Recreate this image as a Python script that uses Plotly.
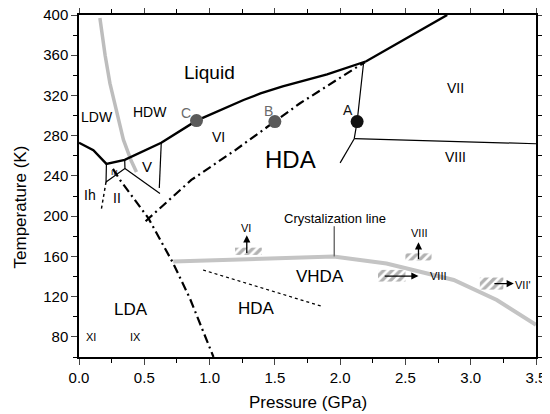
import plotly.graph_objects as go

# ---- data (pressure GPa, temperature K) ----
melt_P = [0.0, 0.11, 0.21, 0.35, 0.63, 0.90, 1.26, 1.39, 1.56, 1.90, 2.20, 2.50, 2.82]
melt_T = [273, 265.5, 252, 256, 273, 295, 315.5, 322, 329, 341, 354, 376, 400]

widom_P = [0.16, 0.20, 0.237, 0.30, 0.34, 0.40, 0.44]
widom_T = [397, 360, 332, 299, 276, 255, 244]

iceIII_P = [0.21, 0.207, 0.352, 0.35]
iceIII_T = [252, 234, 247.5, 256]

iiv_P = [0.352, 0.62]
iiv_T = [247.5, 222.5]
vvi_P = [0.63, 0.615]
vvi_T = [273, 228]

ih_P = [0.207, 0.17]
ih_T = [234, 206]

lda_hda_P = [0.26, 0.314, 0.531, 0.722, 0.85, 1.03]
lda_hda_T = [247, 236, 198, 153, 118, 60]

hda_liq_P = [0.51, 0.86, 1.20, 1.50, 1.69, 2.15, 2.19]
hda_liq_T = [195, 236, 266, 294, 312, 350, 353]

vi_vii_P = [2.18, 2.13, 2.108]
vi_vii_T = [353, 294, 277]
vii_viii_P = [2.108, 3.5]
vii_viii_T = [277, 272]
vi_viii_P = [2.108, 2.0]
vi_viii_T = [277, 253]

cryst_P = [0.722, 1.08, 1.50, 1.95, 2.355, 2.87, 3.2, 3.5]
cryst_T = [155, 156.5, 158.5, 159.8, 153, 136.6, 116.7, 92]

dot_P = [0.95, 1.87]
dot_T = [146.5, 110]

pts_name = ["C", "B", "A"]
pts_P = [0.90, 1.50, 2.13]
pts_T = [295, 294, 294]

boxes_P0 = [1.195, 2.50, 2.29, 3.07]
boxes_P1 = [1.40, 2.70, 2.50, 3.25]
boxes_T0 = [161.5, 156, 135, 127]
boxes_T1 = [168.7, 163, 146.6, 139]

arr_P0 = [1.285, 2.60, 2.33, 3.17]
arr_T0 = [162, 156, 140.5, 133]
arr_P1 = [1.285, 2.60, 2.60, 3.33]
arr_T1 = [181, 174, 140.5, 133]

lab_text = ["Liquid", "LDW", "HDW", "VI", "HDA", "VII", "VIII", "LDA", "HDA", "VHDA",
            "XI", "IX", "Ih", "II", "V", "III", "VI", "VIII", "VIII", "VII'",
            "Crystalization line"]
lab_P = [1.0, 0.14, 0.54, 1.07, 1.62, 2.88, 2.88, 0.40, 1.36, 1.845,
         0.09, 0.43, 0.085, 0.29, 0.52, 0.275, 1.28, 2.606, 2.75, 3.40,
         1.96]
lab_T = [343, 299, 304, 279, 256, 327, 259, 107, 108, 140,
         80, 80, 221, 218, 249, 243, 188, 183, 140.5, 132,
         198]
lab_size = [19, 14, 14, 14, 24, 14, 14, 17, 17, 17,
            11, 11, 14, 14, 15, 8, 11, 11, 11, 11,
            13]

x_ticks = [0.0, 0.5, 1.0, 1.5, 2.0, 2.5, 3.0, 3.5]
y_ticks = [80, 120, 160, 200, 240, 280, 320, 360, 400]

x_title = "Pressure (GPa)"
y_title = "Temperature (K)"

fig = go.Figure()

def line(P, T, width=1.2, color="black", dash="solid"):
    fig.add_trace(go.Scatter(x=P, y=T, mode="lines", showlegend=False, hoverinfo="skip",
                             line=dict(color=color, width=width, dash=dash)))

DD = "9px,4px,2px,4px"

line(widom_P, widom_T, 3.5, "#bdbdbd")
line(cryst_P, cryst_T, 4, "#c4c4c4")
line(melt_P, melt_T, 2.4)
line(iceIII_P, iceIII_T, 1.2)
line(iiv_P, iiv_T, 1.2)
line(vvi_P, vvi_T, 1.2)
line(ih_P, ih_T, 1.4, dash="dot")
line(lda_hda_P, lda_hda_T, 2.2, dash=DD)
line(hda_liq_P, hda_liq_T, 2.2, dash=DD)
line(vi_vii_P, vi_vii_T, 1.2)
line(vii_viii_P, vii_viii_T, 1.2)
line(vi_viii_P, vi_viii_T, 1.2)
line(dot_P, dot_T, 1.2, dash="dot")

# leader for crystallization line label
line([1.955, 1.955], [190, 160], 1.5, "#707070")

# hatched boxes
for p0, p1, t0, t1 in zip(boxes_P0, boxes_P1, boxes_T0, boxes_T1):
    fig.add_trace(go.Scatter(x=[p0, p1, p1, p0, p0], y=[t0, t0, t1, t1, t0], mode="lines",
                             fill="toself", fillcolor="rgba(0,0,0,0)", line=dict(width=0),
                             fillpattern=dict(shape="/", fgcolor="#666666", bgcolor="white",
                                              size=6, solidity=0.55),
                             showlegend=False, hoverinfo="skip"))

# points
fig.add_trace(go.Scatter(x=pts_P, y=pts_T, mode="markers", showlegend=False, hoverinfo="skip",
                         marker=dict(size=13, color=["#5a5a5a", "#5a5a5a", "#111111"])))
pt_lab_P = [0.82, 1.45, 2.06]
pt_lab_T = [303, 305, 306]
for n, p, t, c in zip(pts_name, pt_lab_P, pt_lab_T, ["#6a6a6a", "#6a6a6a", "#111"]):
    fig.add_annotation(x=p, y=t, text=n, showarrow=False, font=dict(size=14, color=c))

# arrows
for p0, t0, p1, t1 in zip(arr_P0, arr_T0, arr_P1, arr_T1):
    fig.add_annotation(x=p1, y=t1, ax=p0, ay=t0, axref="x", ayref="y", xref="x", yref="y",
                       text="", showarrow=True, arrowhead=2, arrowsize=1.1, arrowwidth=1.3,
                       arrowcolor="black")

for t, p, T, s in zip(lab_text, lab_P, lab_T, lab_size):
    fig.add_annotation(x=p, y=T, text=t, showarrow=False, font=dict(size=s, color="black"))

# axis titles
fig.add_annotation(xref="paper", yref="paper", x=0.5, y=-0.132, text=x_title,
                   showarrow=False, font=dict(size=17), xanchor="center", yanchor="middle")
fig.add_annotation(xref="paper", yref="paper", x=-0.127, y=0.44, text=y_title,
                   showarrow=False, font=dict(size=17), textangle=-90,
                   xanchor="center", yanchor="middle")

# page body has an 8px default margin; size the figure to fit the window
fig.update_layout(
    width=542, height=406,
    margin=dict(l=71, r=14, t=7, b=57, autoexpand=False),
    plot_bgcolor="white", paper_bgcolor="white",
    font=dict(family="Liberation Sans, Arial, sans-serif", size=15, color="black"),
    xaxis=dict(range=[0, 3.5], tickvals=x_ticks, ticktext=[f"{v:.1f}" for v in x_ticks],
               ticks="outside", ticklen=6, tickwidth=1.2, showgrid=False, zeroline=False,
               showline=True, linecolor="black", linewidth=1.5, mirror="ticks",
               automargin=False, ticklabeloverflow="allow",
               minor=dict(dtick=0.25, ticks="outside", ticklen=4, tickcolor="black")),
    yaxis=dict(range=[60, 400], tickvals=y_ticks, ticks="outside", ticklen=6, tickwidth=1.2,
               showgrid=False, zeroline=False, automargin=False, ticklabeloverflow="allow",
               showline=True, linecolor="black", linewidth=1.5, mirror="ticks",
               minor=dict(dtick=20, tick0=60, ticks="outside", ticklen=4, tickcolor="black")),
)

fig.write_html("out.html")
